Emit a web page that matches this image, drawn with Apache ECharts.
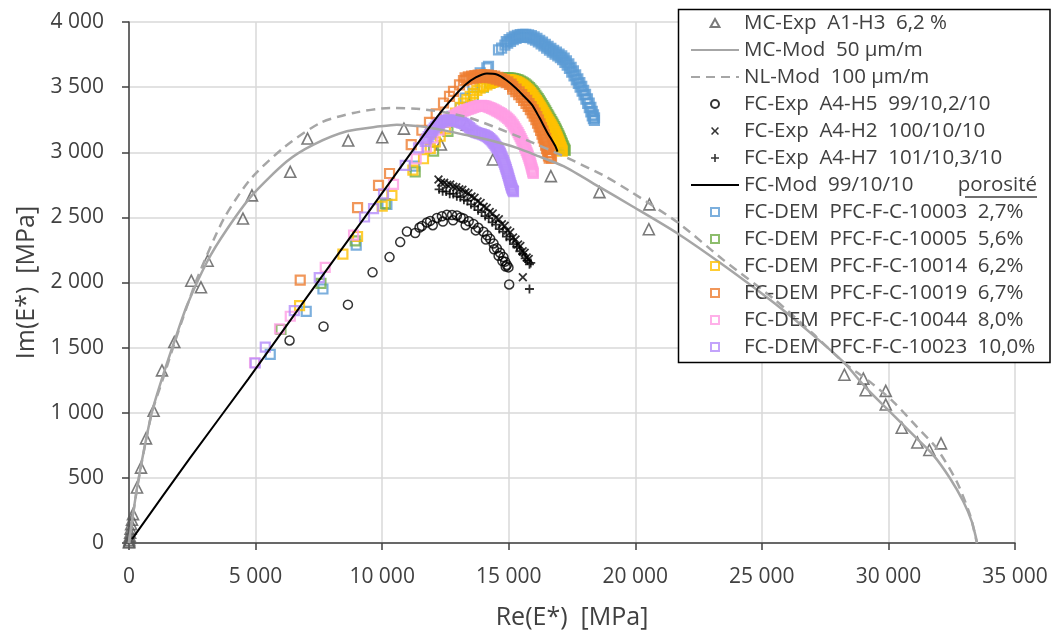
<!DOCTYPE html>
<html><head><meta charset="utf-8">
<script src="https://cdn.jsdelivr.net/npm/echarts@6/dist/echarts.min.js"></script>
<style>html,body{margin:0;padding:0;background:#fff}#c{width:1056px;height:635px}</style>
</head><body><div id="c"></div>
<script>
const xTicks = [0, 5000, 10000, 15000, 20000, 25000, 30000, 35000];
const yTicks = [0, 500, 1000, 1500, 2000, 2500, 3000, 3500, 4000];
const names = [
  'MC-Exp  A1-H3  6,2 %',
  'MC-Mod  50 µm/m',
  'NL-Mod  100 µm/m',
  'FC-Exp  A4-H5  99/10,2/10',
  'FC-Exp  A4-H2  100/10/10',
  'FC-Exp  A4-H7  101/10,3/10',
  'FC-Mod  99/10/10',
  'FC-DEM  PFC-F-C-10003  2,7%',
  'FC-DEM  PFC-F-C-10005  5,6%',
  'FC-DEM  PFC-F-C-10014  6,2%',
  'FC-DEM  PFC-F-C-10019  6,7%',
  'FC-DEM  PFC-F-C-10044  8,0%',
  'FC-DEM  PFC-F-C-10023  10,0%'
];

const mcExp = [[0,4],[6,10],[12,22],[20,38],[30,55],[45,80],[62,110],[85,145],[118,178],[158,222],[316,426],[474,579],[671,803],[972,1015],[1303,1325],[1789,1543],[2460,2014],[2843,1963],[3105,2167],[4502,2491],[4857,2669],[6370,2850],[7053,3105],[8660,3090],[10003,3115],[10860,3181],[12321,3059],[13347,3212],[14374,2944],[16665,2817],[18585,2694],[20535,2409],[20558,2600],[28260,1292],[29010,1262],[29100,1173],[29894,1168],[29894,1063],[30526,885],[31142,772],[31616,714],[32077,765]];

const mcMod = [[0,0],[40,62],[118,166],[316,421],[577,701],[908,1007],[1303,1262],[1828,1568],[2290,1823],[3105,2167],[3870,2409],[4857,2669],[6240,2931],[7290,3059],[8608,3161],[9924,3199],[10583,3212],[11503,3199],[12400,3170],[13213,3136],[14300,3090],[15322,3034],[16200,2968],[17162,2893],[18612,2730],[19797,2595],[21640,2380],[23500,2130],[25500,1840],[27000,1600],[28220,1390],[29145,1185],[30066,1007],[31118,803],[31774,675],[32432,497],[32958,319],[33290,166],[33460,40],[33500,0]];

const nlMod = [[0,0],[40,58],[118,162],[316,415],[577,695],[908,1003],[1366,1275],[1895,1593],[2685,2027],[3736,2486],[4790,2791],[6105,3034],[7555,3225],[8870,3302],[10319,3340],[11503,3332],[12500,3305],[13478,3263],[15188,3136],[17162,2970],[18809,2815],[19797,2700],[21680,2460],[23500,2170],[25500,1870],[27000,1610],[28287,1377],[29275,1237],[30195,1084],[31118,893],[31907,727],[32697,472],[33223,216],[33460,30],[33500,0]];

const fcExpH5 = [[6342,1555],[7685,1662],[8648,1830],[9621,2078],[10292,2195],[10714,2310],[10978,2391],[11306,2380],[11476,2422],[11570,2434],[11768,2460],[11898,2473],[12000,2440],[12163,2495],[12360,2508],[12400,2468],[12558,2520],[12760,2518],[12800,2478],[12953,2515],[13100,2500],[13213,2492],[13300,2440],[13420,2470],[13608,2450],[13700,2400],[13800,2420],[14003,2390],[14100,2330],[14150,2362],[14268,2335],[14400,2300],[14420,2255],[14532,2262],[14600,2205],[14660,2228],[14750,2165],[14793,2195],[14860,2160],[14880,2122],[14927,2135],[14990,2116],[15018,1985]];

const fcExpH2 = [[12226,2790],[12330,2768],[12450,2765],[12570,2750],[12690,2752],[12810,2735],[12930,2732],[13050,2715],[13170,2712],[13290,2692],[13410,2685],[13530,2660],[13650,2650],[13770,2622],[13890,2610],[14010,2582],[14130,2572],[14250,2542],[14370,2530],[14490,2496],[14610,2485],[14730,2448],[14840,2435],[14950,2400],[15060,2385],[15170,2345],[15270,2330],[15370,2292],[15460,2280],[15550,2240],[15630,2228],[15710,2192],[15790,2180],[15558,2040]];

const fcExpH7 = [[12250,2715],[12390,2700],[12530,2698],[12670,2682],[12810,2680],[12950,2662],[13090,2655],[13230,2636],[13370,2626],[13510,2600],[13650,2585],[13790,2555],[13930,2540],[14070,2510],[14210,2495],[14350,2462],[14490,2445],[14630,2410],[14770,2390],[14910,2352],[15050,2332],[15190,2295],[15320,2275],[15440,2240],[15550,2220],[15650,2185],[15740,2168],[15820,2140],[15870,2150],[15820,1950]];

const fcMod = [[120,30],[2400,650],[4723,1262],[7000,1880],[9331,2506],[11373,3059],[12293,3302],[12800,3420],[13300,3520],[13700,3575],[14137,3605],[14532,3597],[14900,3555],[15300,3490],[15600,3430],[15914,3365],[16200,3270],[16500,3160],[16834,3050],[16930,3005]];

const dem10003 = [[5580,1448],[7001,1778],[7661,1950],[8976,2287],[10188,2600],[11282,2893],[12755,3276],[13083,3340],[13281,3416],[13584,3518],[13873,3610],[14137,3648],[14201,3660],
[14597,3786],[14720,3800],[14850,3822],[14960,3838],[15070,3852],[15180,3864],[15290,3874],[15400,3881],[15510,3885],[15620,3886],[15730,3884],[15840,3879],[15950,3871],[16060,3860],[16170,3847],[16280,3832],[16390,3816],[16500,3800],[16610,3784],[16720,3768],[16830,3754],[16940,3740],[17040,3726],[17130,3710],[17220,3690],[17310,3668],[17400,3643],[17490,3615],[17580,3586],[17670,3556],[17750,3528],[17821,3500],[17900,3470],[17975,3440],[18050,3408],[18120,3375],[18185,3342],[18245,3310],[18300,3280],[18345,3258],[18385,3245],
[14905,3850],[15015,3865],[15125,3878],[15235,3889],[15345,3897],[15455,3903],[15565,3906],[15675,3905],[15785,3902],[15895,3895],[16005,3886],[16115,3874],[16225,3860],[16335,3845],[16445,3829],[16555,3813],[16665,3797],[16775,3782],[16885,3768],[16990,3754],[17095,3740],[17190,3722],[17280,3701],[17375,3678],[17465,3652],[17555,3624],[17645,3594],[17730,3564],[17810,3534],[17885,3505],[17960,3475],[18035,3444],[18110,3410],[18180,3377],[18245,3344],[18300,3314],[18350,3287],[18390,3265]];

const dem10005 = [[6003,1639],[7582,1994],[8937,2320],[10122,2606],[11306,2850],[12032,3008],[12600,3160],[13100,3300],[13600,3430],[14000,3500],[14250,3530],
[14420,3548],[14550,3558],[14680,3565],[14810,3569],[14940,3571],[15070,3570],[15200,3566],[15330,3558],[15460,3547],[15585,3533],[15705,3516],[15820,3496],[15925,3474],[16025,3450],[16120,3424],[16210,3398],[16295,3371],[16380,3344],[16460,3317],[16540,3290],[16620,3263],[16700,3236],[16775,3210],[16850,3183],[16915,3156],[16980,3129],[17040,3102],[17095,3076],[17145,3052],[17190,3030],[17230,3014],
[14485,3553],[14615,3562],[14745,3567],[14875,3570],[15005,3571],[15135,3568],[15265,3562],[15395,3553],[15523,3540],[15645,3525],[15763,3506],[15873,3485],[15975,3462],[16073,3437],[16165,3411],[16253,3385],[16338,3358],[16420,3331],[16500,3304],[16580,3277],[16660,3250],[16738,3223],[16813,3197],[16883,3170],[16948,3143],[17010,3116],[17068,3089],[17120,3064],[17168,3041],[17210,3022]];

const dem10014 = [[6738,1823],[8450,2218],[9029,2353],[10003,2587],[10386,2669],[11215,2862],[11634,2950],[11900,3030],[12100,3080],[12293,3123],[12500,3180],[12700,3240],[12900,3300],[13083,3345],[13213,3378],[13350,3405],[13478,3429],[13608,3452],[13743,3475],[13870,3492],[14003,3505],[14140,3518],
[14268,3531],[14400,3541],[14530,3549],[14660,3554],[14790,3557],[14920,3558],[15050,3556],[15180,3551],[15310,3542],[15430,3530],[15550,3515],[15660,3498],[15765,3479],[15865,3458],[15960,3434],[16050,3409],[16140,3383],[16225,3357],[16305,3331],[16385,3304],[16465,3277],[16545,3250],[16625,3225],[16700,3200],[16770,3174],[16835,3148],[16895,3122],[16950,3096],[17000,3070],[17045,3046],[17085,3024],[17115,3008],
[14334,3536],[14465,3545],[14595,3552],[14725,3556],[14855,3558],[14985,3557],[15115,3554],[15245,3547],[15370,3536],[15490,3523],[15605,3507],[15713,3489],[15815,3469],[15913,3446],[16005,3422],[16095,3396],[16183,3370],[16265,3344],[16345,3318],[16425,3291],[16505,3264],[16585,3238],[16663,3213],[16735,3187],[16803,3161],[16865,3135],[16923,3109],[16975,3083],[17023,3058],[17065,3035],[17100,3016]];

const dem10019 = [[6764,2019],[9029,2575],[9857,2746],[10292,2837],[11148,3059],[11570,3169],[11870,3229],[12135,3295],[12424,3378],[12661,3429],[12819,3467],[13056,3518],
[13213,3550],[13340,3557],[13470,3563],[13600,3568],[13730,3572],[13860,3575],[13990,3576],[14120,3576],[14250,3573],[14380,3569],[14510,3562],[14640,3554],[14770,3545],[14900,3534],[15030,3520],[15160,3504],[15290,3485],[15410,3464],[15515,3442],[15615,3420],[15710,3398],[15800,3374],[15885,3350],[15965,3325],[16040,3300],[16110,3273],[16175,3246],[16235,3218],[16295,3190],[16355,3162],[16410,3134],[16460,3106],[16505,3078],[16550,3050],[16590,3022],[16625,2994],[16660,2968],[16690,2955],
[13277,3572],[13405,3578],[13535,3584],[13665,3588],[13795,3592],[13925,3594],[14055,3594],[14185,3593],[14315,3589],[14445,3584],[14575,3576],[14705,3566],[14835,3554],[14965,3540],[15095,3523],
[15155,3485],[15280,3465],[15395,3443],[15495,3421],[15590,3399],[15685,3376],[15770,3352],[15855,3328],[15930,3303],[16005,3277],[16075,3250],[16140,3223],[16200,3195],[16260,3167],[16315,3139],[16365,3111],[16410,3083],[16455,3055],[16495,3027],[16535,2999],[16570,2972],[16600,2955]];

const dem10044 = [[4960,1384],[5947,1644],[6370,1741],[7752,2116],[8870,2363],[10449,2753],[11345,2950],[11750,3040],[12000,3110],[12250,3170],
[12500,3232],[12630,3252],[12760,3270],[12890,3286],[13020,3300],[13150,3312],[13280,3322],[13410,3331],[13540,3339],[13670,3348],[13800,3356],[13930,3360],[14060,3356],[14190,3347],[14320,3337],[14450,3325],[14580,3311],[14710,3296],[14840,3280],[14960,3260],[15075,3237],[15180,3210],[15280,3180],[15370,3150],[15450,3120],[15525,3090],[15595,3060],[15660,3030],[15720,3000],[15775,2970],[15825,2940],[15870,2910],[15910,2880],[15945,2855],[15970,2838],
[12565,3242],[12695,3261],[12825,3278],[12955,3293],[13085,3306],[13215,3317],[13345,3327],[13475,3335],[13605,3344],[13735,3352],[13865,3358],[13995,3358],[14125,3352],[14255,3342],[14385,3331],[14515,3318],[14645,3304],[14775,3288],[14900,3270],[15018,3249],[15128,3224],[15230,3195],[15325,3165],[15410,3135],[15488,3105],[15560,3075],[15628,3045],[15690,3015],[15748,2985],[15800,2955],[15848,2925],[15890,2895],[15928,2868],[15958,2847]];

const dem10023 = [[4988,1382],[5383,1504],[6529,1784],[7515,2037],[9304,2503],[9660,2567],[10055,2680],[10912,2900],[11437,3034],
[11700,3084],[11820,3120],[11940,3155],[12060,3185],[12180,3210],[12300,3228],[12420,3240],[12550,3246],[12680,3246],[12810,3243],[12940,3237],[13070,3230],[13200,3222],[13330,3210],[13450,3190],[13560,3168],[13680,3155],[13800,3146],[13920,3140],[14040,3132],[14150,3120],[14250,3104],[14340,3088],[14420,3068],[14500,3046],[14570,3030],[14640,3004],[14700,2978],[14760,2950],[14815,2922],[14865,2894],[14910,2866],[14955,2838],[14995,2810],[15035,2782],[15075,2756],[15110,2732],[15150,2712],[15190,2698],
[11760,3102],[11880,3138],[12000,3170],[12120,3198],[12240,3219],[12360,3234],[12485,3243],[12615,3246],[12745,3245],[12875,3240],[13005,3234],[13135,3226],[13265,3216],[13390,3200],[13505,3179],[13620,3162],[13740,3151],[13860,3143],[13980,3136],[14095,3126],[14200,3112],[14295,3096],[14380,3078],[14460,3057],[14535,3038],[14605,3017],[14670,2991],[14730,2964],[14788,2936],[14840,2908],[14888,2880],[14933,2852],[14975,2824],[15015,2796],[15055,2769],[15093,2744],[15130,2722],[15170,2705]];

const FONT = '"Open Sans", "Noto Sans", sans-serif';
const TXT = '#404040';
const fmt = v => String(v).replace(/\B(?=(\d{3})+(?!\d))/g, ' ');
const CROSS = 'path://M0,1.4L1.4,0L5,3.6L8.6,0L10,1.4L6.4,5L10,8.6L8.6,10L5,6.4L1.4,10L0,8.6L3.6,5Z';
const PLUS = 'path://M4,0H6V4H10V6H6V10H4V6H0V4H4Z';
const TRI = 'path://M5,0L10,9L0,9Z';
const CIRC = 'path://M5,0A5,5,0,1,1,5,10A5,5,0,1,1,5,0Z';
const SQ = 'path://M0,0H10V10H0Z';
const NOMARK = {color:'rgba(0,0,0,0)', borderWidth:0};

function hollow(name, data, symbol, size, color, bw) {
  return {name, type:'scatter', data, symbol, symbolSize:size, silent:true,
    itemStyle:{color:'rgba(255,255,255,0)', borderColor:color, borderWidth:bw},
    emphasis:{disabled:true}};
}
function filled(name, data, symbol, size, color) {
  return {name, type:'scatter', data, symbol, symbolSize:size, silent:true,
    itemStyle:{color}, emphasis:{disabled:true}};
}
function line(name, data, color, width, type) {
  return {name, type:'line', data, symbol:'none', showSymbol:false, smooth:0.25, silent:true,
    lineStyle:{color, width, type:type || 'solid'}, itemStyle:{color}, emphasis:{disabled:true}};
}

const axisCommon = {
  type:'value',
  axisLine:{show:true, onZero:false, lineStyle:{color:'#404040', width:1.5}},
  axisTick:{show:true, length:7, lineStyle:{color:'#404040', width:1.5}},
  splitLine:{show:true, lineStyle:{color:'#d9d9d9', width:1.5}},
  nameLocation:'middle',
  nameTextStyle:{fontSize:25, color:TXT, fontFamily:FONT}
};

const chart = echarts.init(document.getElementById('c'), null, {renderer:'canvas', width:1056, height:635});
chart.setOption({
  animation:false,
  backgroundColor:'#fff',
  textStyle:{fontFamily:FONT},
  grid:{left:129, right:41, top:22, bottom:90, containLabel:false},
  xAxis:Object.assign({}, axisCommon, {
    min:xTicks[0], max:xTicks[xTicks.length-1], interval:xTicks[1]-xTicks[0],
    name:'Re(E*)  [MPa]', nameGap:62,
    axisLabel:{fontSize:21, color:TXT, margin:24, formatter:fmt, fontFamily:FONT}
  }),
  yAxis:Object.assign({}, axisCommon, {
    min:yTicks[0], max:yTicks[yTicks.length-1], interval:yTicks[1]-yTicks[0],
    name:'Im(E*)  [MPa]', nameGap:84,
    axisLabel:{fontSize:21, color:TXT, margin:25, formatter:fmt, fontFamily:FONT}
  }),
  legend:{
    orient:'vertical', left:678, top:9, padding:[3,0,3,12], itemGap:5,
    itemWidth:48, itemHeight:8, selectedMode:false, z:4, symbolKeepAspect:true,
    textStyle:{fontSize:20.5, lineHeight:22, color:TXT, fontFamily:FONT},
    data:[
      {name:names[0], icon:TRI},
      {name:names[1], itemStyle:NOMARK},
      {name:names[2], itemStyle:NOMARK},
      {name:names[3], icon:CIRC},
      {name:names[4], icon:CROSS},
      {name:names[5], icon:PLUS},
      {name:names[6], itemStyle:NOMARK},
      {name:names[7], icon:SQ},
      {name:names[8], icon:SQ},
      {name:names[9], icon:SQ},
      {name:names[10], icon:SQ},
      {name:names[11], icon:SQ},
      {name:names[12], icon:SQ}
    ]
  },
  graphic:[
    {type:'rect', z:3, silent:true, shape:{x:678.5, y:9.5, width:371.5, height:353}, style:{fill:'#fff', stroke:'#000', lineWidth:1.5}},
    {type:'text', z:6, silent:true, style:{text:'porosité', x:1037, y:185, align:'right', verticalAlign:'middle', font:'20.5px "Open Sans"', fill:TXT}},
    {type:'line', z:6, silent:true, shape:{x1:965, y1:197, x2:1037, y2:197}, style:{stroke:TXT, lineWidth:1.3}}
  ],
  series:[
    hollow(names[0], mcExp, 'triangle', 11, '#595959', 1.6),
    line(names[1], mcMod, '#A6A6A6', 2.5),
    line(names[2], nlMod, '#A6A6A6', 2.5, [9,6]),
    hollow(names[3], fcExpH5, 'circle', 9, '#000', 1.5),
    filled(names[4], fcExpH2, CROSS, 9, '#000'),
    filled(names[5], fcExpH7, PLUS, 9, '#000'),
    line(names[6], fcMod, '#000', 2),
    hollow(names[7], dem10003, 'rect', 9, '#5B9BD5', 2.2),
    hollow(names[8], dem10005, 'rect', 9, '#70AD47', 2.2),
    hollow(names[9], dem10014, 'rect', 9, '#FFC000', 2.2),
    hollow(names[10], dem10019, 'rect', 9, '#ED7D31', 2.2),
    hollow(names[11], dem10044, 'rect', 9, '#FF9CE4', 2.2),
    hollow(names[12], dem10023, 'rect', 9, '#B48CFA', 2.2)
  ]
});
</script></body></html>
